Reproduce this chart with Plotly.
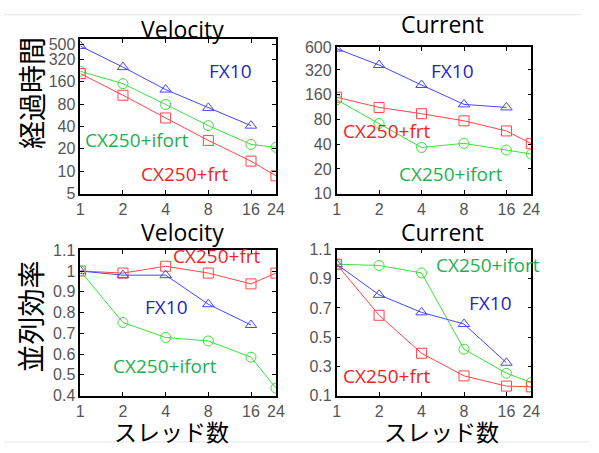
import plotly.graph_objects as go
import math

threads = [1, 2, 4, 8, 16, 24]
threads_fx = [1, 2, 4, 8, 16]

# Elapsed time (経過時間)
vel_time_fx10 = [480, 250, 125, 71, 41]
vel_time_ifort = [220, 150, 79, 41, 23, 21]
vel_time_frt = [205, 105, 52, 26, 13.7, 8.7]

cur_time_fx10 = [580, 367, 210, 122, 112]
cur_time_frt = [149, 112, 94, 77, 58, 40.6]
cur_time_ifort = [139, 71.5, 36.5, 41, 34, 30.4]

# Parallel efficiency (並列効率)
vel_eff_frt = [1.0, 0.99, 1.023, 0.99, 0.938, 0.99]
vel_eff_fx10 = [1.0, 0.98, 0.98, 0.84, 0.74]
vel_eff_ifort = [1.0, 0.752, 0.68, 0.663, 0.585, 0.436]

cur_eff_ifort = [1.0, 0.991, 0.94, 0.418, 0.253, 0.19]
cur_eff_fx10 = [1.0, 0.79, 0.67, 0.59, 0.325]
cur_eff_frt = [1.0, 0.65, 0.39, 0.235, 0.165, 0.16]

x_ticks = [1, 2, 4, 8, 16, 24]
tl_yticks = [5, 10, 20, 40, 80, 160, 320, 500]
tr_yticks = [10, 20, 40, 80, 160, 320, 600]
bl_yticks = [0.4, 0.5, 0.6, 0.7, 0.8, 0.9, 1.0, 1.1]
bl_ylabels = ["0.4", "0.5", "0.6", "0.7", "0.8", "0.9", "1", "1.1"]
br_yticks = [0.1, 0.3, 0.5, 0.7, 0.9, 1.1]
br_ylabels = ["0.1", "0.3", "0.5", "0.7", "0.9", "1.1"]

W, H = 599, 453
BLUE, RED, GREEN = "#4646ff", "#ff4646", "#3ce03c"
BLUE_T, RED_T, GREEN_T = "#2424c8", "#f02424", "#22b150"

def px(x):
    return x / W

def py(y):
    return 1 - y / H

fig = go.Figure()

def add(xs, ys, color, symbol, ax):
    fig.add_trace(go.Scatter(
        x=xs, y=ys, mode="lines+markers",
        line=dict(color=color, width=1),
        marker=dict(symbol=symbol, size=10, color=color,
                    line=dict(color=color, width=1)),
        xaxis="x" + ax, yaxis="y" + ax, showlegend=False, hoverinfo="skip"))

add(threads_fx, vel_time_fx10, BLUE, "triangle-up-open", "")
add(threads, vel_time_ifort, GREEN, "circle-open", "")
add(threads, vel_time_frt, RED, "square-open", "")

add(threads_fx, cur_time_fx10, BLUE, "triangle-up-open", "2")
add(threads, cur_time_frt, RED, "square-open", "2")
add(threads, cur_time_ifort, GREEN, "circle-open", "2")

add(threads, vel_eff_frt, RED, "square-open", "3")
add(threads_fx, vel_eff_fx10, BLUE, "triangle-up-open", "3")
add(threads, vel_eff_ifort, GREEN, "circle-open", "3")

add(threads, cur_eff_ifort, GREEN, "circle-open", "4")
add(threads_fx, cur_eff_fx10, BLUE, "triangle-up-open", "4")
add(threads, cur_eff_frt, RED, "square-open", "4")

tickfont = dict(family="Liberation Sans, Arial, sans-serif", size=16, color="#555555")

def xaxis(dom, anchor):
    return dict(domain=dom, anchor=anchor, type="log", range=[0, math.log10(24)],
                tickvals=x_ticks, ticktext=[str(v) for v in x_ticks],
                ticks="inside", ticklen=4, tickcolor="black", mirror="ticks",
                showline=True, linecolor="black", linewidth=1.5,
                showgrid=False, zeroline=False, tickfont=tickfont)

def yaxis(dom, anchor, typ, rng, tv, tt):
    return dict(domain=dom, anchor=anchor, type=typ, range=rng,
                tickvals=tv, ticktext=tt,
                ticks="inside", ticklen=4, tickcolor="black", mirror="ticks",
                showline=True, linecolor="black", linewidth=1.5,
                showgrid=False, zeroline=False, tickfont=tickfont)

xl = [px(78), px(278)]
xr = [px(340), px(539)]
fig.update_layout(
    width=W, height=H, margin=dict(l=0, r=0, t=0, b=0),
    paper_bgcolor="white", plot_bgcolor="white",
    xaxis=xaxis(xl, "y"),
    yaxis=yaxis([py(193), py(32)], "x", "log", [math.log10(5), math.log10(600)],
                tl_yticks, [str(v) for v in tl_yticks]),
    xaxis2=xaxis(xr, "y2"),
    yaxis2=yaxis([py(193), py(41)], "x2", "log", [1, math.log10(600)],
                 tr_yticks, [str(v) for v in tr_yticks]),
    xaxis3=xaxis(xl, "y3"),
    yaxis3=yaxis([py(402.7), py(251.7)], "x3", "linear", [0.4, 1.1],
                 bl_yticks, bl_ylabels),
    xaxis4=xaxis(xr, "y4"),
    yaxis4=yaxis([py(402.7), py(251)], "x4", "linear", [0.1, 1.1],
                 br_yticks, br_ylabels),
)

def txt(x, y, s, color, size, family="Open Sans, sans-serif", angle=0):
    fig.add_annotation(x=px(x), y=py(y), xref="paper", yref="paper", text=s,
                       showarrow=False, xanchor="center", yanchor="middle",
                       textangle=angle, font=dict(family=family, size=size, color=color))

lab = 19
# titles
txt(182, 22, "Velocity", "black", 23)
txt(448, 17, "Current", "black", 23)
txt(182, 233, "Velocity", "black", 23)
txt(448, 233, "Current", "black", 23)
# axis titles
cjk = "Noto Sans CJK JP"
txt(27, 88, "経過時間", "black", 28, cjk, -90)
txt(27, 320, "並列効率", "black", 28, cjk, -90)
txt(171, 439, "スレッド数", "black", 23, cjk)
txt(447, 439, "スレッド数", "black", 23, cjk)
# series labels
txt(232, 65, "FX10", BLUE_T, lab)
txt(136, 137, "CX250+ifort", GREEN_T, lab)
txt(185, 172, "CX250+frt", RED_T, lab)
txt(458, 65, "FX10", BLUE_T, lab)
txt(392, 128, "CX250+frt", RED_T, lab)
txt(457, 172, "CX250+ifort", GREEN_T, lab)
txt(218, 258, "CX250+frt", RED_T, lab)
txt(166, 311, "FX10", BLUE_T, lab)
txt(165, 372, "CX250+ifort", GREEN_T, lab)
txt(495, 267, "CX250+ifort", GREEN_T, lab)
txt(497, 307, "FX10", BLUE_T, lab)
txt(392, 382, "CX250+frt", RED_T, lab)

# faint frame lines at top and bottom
fig.add_shape(type="line", xref="paper", yref="paper", x0=0, x1=px(590), y0=py(7), y1=py(7),
              line=dict(color="#e6e6e6", width=1))
fig.add_shape(type="line", xref="paper", yref="paper", x0=0, x1=1, y0=py(451), y1=py(451),
              line=dict(color="#e6e6e6", width=1))

fig.write_html("out.html")
